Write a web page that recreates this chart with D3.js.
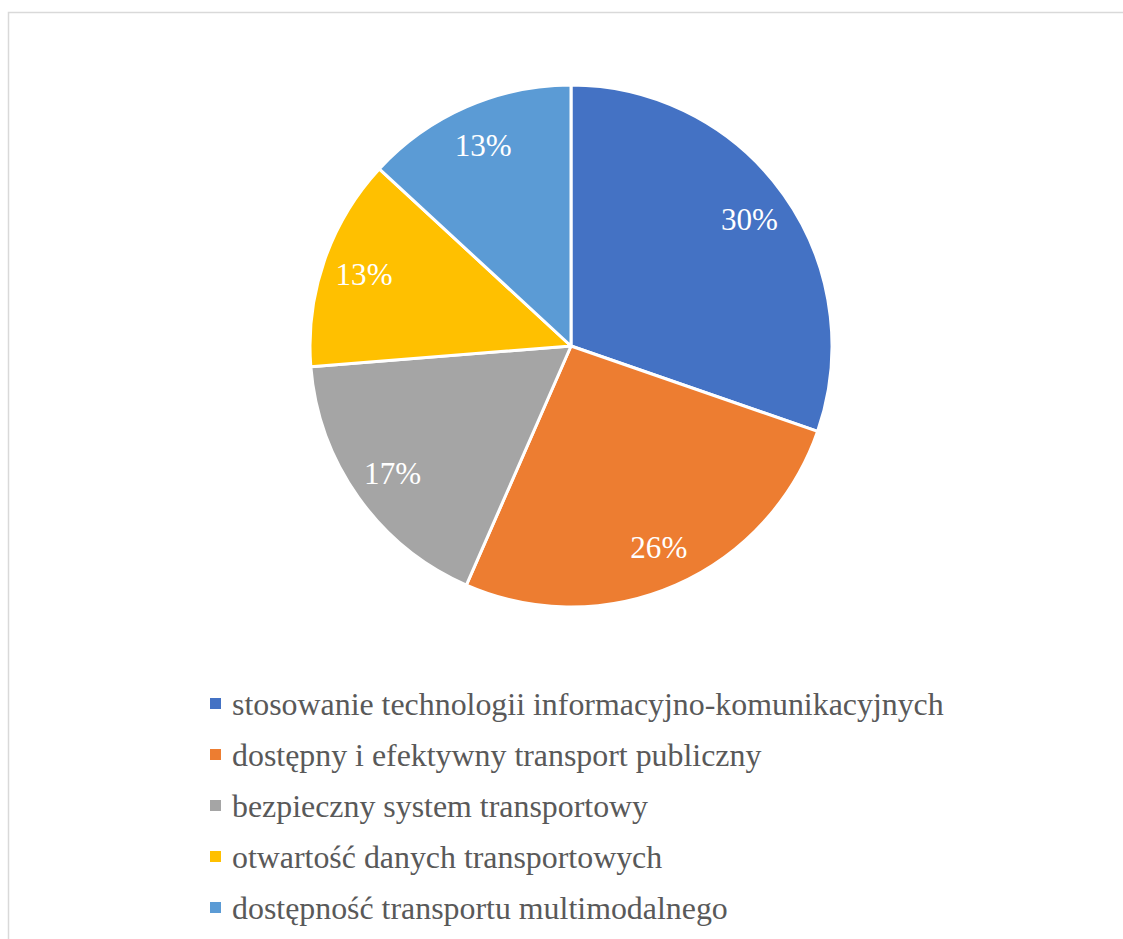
<!DOCTYPE html>
<html>
<head>
<meta charset="utf-8">
<script src="https://cdn.jsdelivr.net/npm/d3@7"></script>
<style>
  html, body { margin: 0; padding: 0; background: #ffffff; }
  svg { display: block; }
  text { font-family: "Liberation Serif", Tinos, "Times New Roman", serif; }
</style>
</head>
<body>
<svg id="chart" width="1123" height="939"></svg>
<script>
// Priorities of the transport system (share of responses, %)
const categories = [
  "stosowanie technologii informacyjno-komunikacyjnych",
  "dostępny i efektywny transport publiczny",
  "bezpieczny system transportowy",
  "otwartość danych transportowych",
  "dostępność transportu multimodalnego"
];
const shares = [30, 26, 17, 13, 13];
const colors = ["#4472C4", "#ED7D31", "#A5A5A5", "#FFC000", "#5B9BD5"];

const width = 1123, height = 939;
const cx = 571, cy = 346, radius = 261;

const svg = d3.select("#chart");

// chart area frame
svg.append("rect")
  .attr("x", 8.5).attr("y", 12.5)
  .attr("width", width + 20).attr("height", height + 20)
  .attr("fill", "#ffffff")
  .attr("stroke", "#d9d9d9")
  .attr("stroke-width", 1.5);

const data = categories.map((c, i) => ({ name: c, value: shares[i], color: colors[i] }));

const pie = d3.pie().value(d => d.value).sort(null);
const arc = d3.arc().innerRadius(0).outerRadius(radius);
const labelArc = d3.arc().innerRadius(219).outerRadius(219);

const g = svg.append("g").attr("transform", `translate(${cx},${cy})`);
const arcs = pie(data);

g.selectAll("path.slice")
  .data(arcs)
  .join("path")
  .attr("class", "slice")
  .attr("d", arc)
  .attr("fill", d => d.data.color)
  .attr("stroke", "#ffffff")
  .attr("stroke-width", 3)
  .attr("stroke-linejoin", "round");

const labels = g.selectAll("text.label")
  .data(arcs)
  .join("text")
  .attr("class", "label")
  .attr("transform", d => `translate(${labelArc.centroid(d)})`)
  .attr("text-anchor", "middle")
  .attr("dy", "0.35em")
  .attr("fill", "#ffffff")
  .attr("font-size", 30)
  .text(d => d.data.value + "%");

// legend
const legend = svg.append("g").attr("transform", "translate(210,704)");
const rowH = 51;
const rows = legend.selectAll("g.row")
  .data(data)
  .join("g")
  .attr("class", "row")
  .attr("transform", (d, i) => `translate(0,${i * rowH})`);

rows.append("rect")
  .attr("x", 0).attr("y", -6)
  .attr("width", 11).attr("height", 11)
  .attr("fill", d => d.color);

const legendText = rows.append("text")
  .attr("class", "entry")
  .attr("x", 22)
  .attr("dy", "0.35em")
  .attr("fill", "#595959")
  .attr("font-size", 28)
  .text(d => d.name);

// size the type so the longest legend entry spans ~712px and "30%" ~57px
const lw = legendText.node().getComputedTextLength();
legendText.attr("font-size", 28 * 712 / lw);
const pw = labels.node().getComputedTextLength();
labels.attr("font-size", 30 * 57 / pw);
</script>
</body>
</html>
